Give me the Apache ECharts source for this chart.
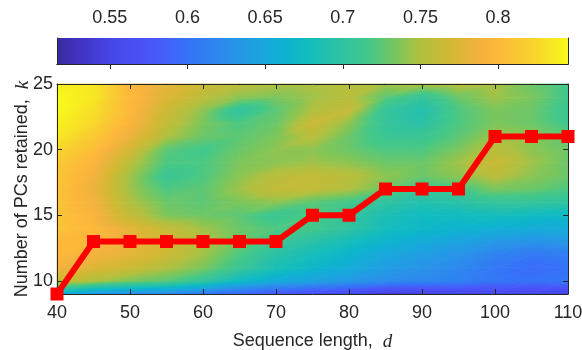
<!DOCTYPE html>
<html><head><meta charset="utf-8">
<script src="https://cdn.jsdelivr.net/npm/echarts@6/dist/echarts.min.js"></script>
<style>html,body{margin:0;padding:0;background:#fff}#c{width:582px;height:350px}</style>
</head><body><div id="c"></div>
<script>
// ---- data ----
const seqLength = [40,45,50,55,60,65,70,75,80,85,90,95,100,105,110];
const kValues = [9,10,11,12,13,14,15,16,17,18,19,20,21,22,23,24,25];
// heat values, one row per k (k = 9 ... 25), columns follow seqLength
const heatValues = [
  [0.66,0.635,0.625,0.62,0.605,0.59,0.575,0.565,0.555,0.54,0.545,0.55,0.555,0.55,0.545],   // k=9
  [0.765,0.75,0.735,0.725,0.705,0.675,0.655,0.645,0.635,0.625,0.62,0.615,0.605,0.60,0.605], // 10
  [0.79,0.775,0.765,0.75,0.735,0.71,0.685,0.67,0.655,0.64,0.63,0.62,0.605,0.595,0.60],      // 11
  [0.80,0.79,0.78,0.765,0.745,0.72,0.695,0.68,0.665,0.65,0.64,0.63,0.615,0.605,0.61],       // 12
  [0.80,0.80,0.785,0.77,0.75,0.73,0.71,0.695,0.68,0.665,0.655,0.645,0.635,0.63,0.635],      // 13
  [0.81,0.80,0.78,0.76,0.745,0.73,0.72,0.715,0.70,0.68,0.67,0.665,0.66,0.655,0.655],        // 14
  [0.81,0.795,0.76,0.735,0.73,0.725,0.71,0.72,0.705,0.685,0.675,0.675,0.68,0.675,0.67],     // 15
  [0.81,0.79,0.75,0.73,0.725,0.735,0.74,0.725,0.715,0.70,0.69,0.695,0.705,0.705,0.70],      // 16
  [0.81,0.785,0.745,0.72,0.725,0.745,0.76,0.76,0.75,0.73,0.71,0.715,0.735,0.73,0.72],       // 17
  [0.81,0.79,0.745,0.71,0.72,0.74,0.755,0.76,0.755,0.74,0.73,0.74,0.755,0.74,0.73],         // 18
  [0.815,0.795,0.755,0.72,0.72,0.735,0.74,0.745,0.74,0.73,0.73,0.745,0.765,0.745,0.73],     // 19
  [0.825,0.805,0.77,0.725,0.715,0.73,0.74,0.74,0.73,0.72,0.72,0.735,0.755,0.74,0.73],       // 20
  [0.835,0.815,0.785,0.75,0.73,0.725,0.735,0.755,0.73,0.71,0.71,0.725,0.745,0.74,0.725],    // 21
  [0.84,0.825,0.795,0.76,0.735,0.72,0.73,0.765,0.74,0.705,0.695,0.72,0.735,0.73,0.715],     // 22
  [0.845,0.83,0.80,0.765,0.74,0.70,0.725,0.75,0.76,0.705,0.69,0.72,0.735,0.73,0.71],        // 23
  [0.845,0.835,0.80,0.775,0.755,0.74,0.735,0.745,0.755,0.725,0.705,0.73,0.745,0.735,0.715], // 24
  [0.84,0.835,0.80,0.78,0.765,0.755,0.75,0.75,0.755,0.745,0.75,0.755,0.75,0.73,0.715]       // 25
];
// red line: number of PCs retained vs sequence length
const pcsRetained = [9,13,13,13,13,13,13,15,15,17,17,17,21,21,21];
// tick labels
const xTicks = [40,50,60,70,80,90,100,110];
const yTicks = [10,15,20,25];
const cbTicks = [0.55,0.6,0.65,0.7,0.75,0.8];
const cMin = 0.516, cMax = 0.845;

// ---- style ----
const cmapStops = [
  [0,'#3a2aa0'],[0.065,'#4338d0'],[0.104,'#4646e8'],[0.182,'#4a55f8'],[0.256,'#3572f8'],
  [0.337,'#2a90ea'],[0.407,'#18a8dc'],[0.456,'#0cb4cc'],[0.485,'#10bcc0'],[0.56,'#30c2a0'],
  [0.612,'#44c888'],[0.67,'#80c658'],[0.71,'#b0c040'],[0.769,'#d2b832'],[0.828,'#f2b23e'],
  [0.863,'#fdb83a'],[0.925,'#f8d02e'],[1,'#f8f81a']
].map(s => ({offset: s[0], color: s[1]}));
const AX = '#262626';
const FONT = 'Liberation Sans, Arial, sans-serif';

function hexToRgb(h){return [parseInt(h.substr(1,2),16),parseInt(h.substr(3,2),16),parseInt(h.substr(5,2),16)];}
function cmapColor(v){
  let t = (v - cMin)/(cMax - cMin); t = Math.max(0, Math.min(1, t));
  for (let i=1;i<cmapStops.length;i++){
    if (t <= cmapStops[i].offset){
      const a = cmapStops[i-1], b = cmapStops[i];
      const f = (t - a.offset)/(b.offset - a.offset);
      const ca = hexToRgb(a.color), cb = hexToRgb(b.color);
      return 'rgb(' + ca.map((c,k)=>Math.round(c + (cb[k]-c)*f)).join(',') + ')';
    }
  }
  return cmapStops[cmapStops.length-1].color;
}
function triFill(pa,pb,pc,va,vb,vc){
  const d1x=pb[0]-pa[0], d1y=pb[1]-pa[1], d2x=pc[0]-pa[0], d2y=pc[1]-pa[1];
  const dv1=vb-va, dv2=vc-va;
  const det = d1x*d2y - d1y*d2x;
  const gx = (dv1*d2y - dv2*d1y)/det, gy = (d1x*dv2 - d2x*dv1)/det;
  const gg = gx*gx + gy*gy;
  if (gg < 1e-12) return cmapColor((va+vb+vc)/3);
  const s = (cMin - va)/gg, e = (cMax - va)/gg;
  return {type:'linear', x: pa[0]+gx*s, y: pa[1]+gy*s, x2: pa[0]+gx*e, y2: pa[1]+gy*e,
          colorStops: cmapStops, global: true};
}

const heatData = [];
kValues.forEach((k,j)=>seqLength.forEach((x,i)=>heatData.push([x,k,heatValues[j][i],i,j])));

function renderHeat(params, api){
  const i = api.value(3), j = api.value(4);
  if (i >= seqLength.length-1 || j >= kValues.length-1) return null;
  const P = (ii,jj)=>api.coord([seqLength[ii], kValues[jj]]);
  const V = (ii,jj)=>heatValues[jj][ii];
  const p00=P(i,j), p10=P(i+1,j), p11=P(i+1,j+1), p01=P(i,j+1);
  const v00=V(i,j), v10=V(i+1,j), v11=V(i+1,j+1), v01=V(i,j+1);
  const f1 = triFill(p00,p10,p11,v00,v10,v11);
  const f2 = triFill(p00,p11,p01,v00,v11,v01);
  return {type:'group', children:[
    {type:'polygon', shape:{points:[p00,p10,p11]}, style:{fill:f1, stroke:f1, lineWidth:0.8}},
    {type:'polygon', shape:{points:[p00,p11,p01]}, style:{fill:f2, stroke:f2, lineWidth:0.8}}
  ]};
}
function renderBar(params, api){
  const p0 = api.coord([api.value(0), api.value(1)]);
  const p1 = api.coord([api.value(2), api.value(3)]);
  return {type:'rect', shape:{x:p0[0], y:p1[1], width:p1[0]-p0[0], height:p0[1]-p1[1]},
    style:{fill:{type:'linear', x:p0[0], y:0, x2:p1[0], y2:0, colorStops:cmapStops, global:true}}};
}

const chart = echarts.init(document.getElementById('c'), null, {renderer:'canvas'});
const lineStyleAx = {show:true, lineStyle:{color:AX, width:1}};
const labelBase = {color:AX, fontSize:18, fontFamily:FONT};
chart.setOption({
  animation:false,
  backgroundColor:'#fff',
  grid:[
    {left:57, right:14, top:84, height:210, outerBoundsMode:'none', containLabel:false},
    {left:57, right:14, top:38, height:26, outerBoundsMode:'none', containLabel:false}
  ],
  xAxis:[
    {gridIndex:0, type:'value', min:40, max:110, interval:10, position:'bottom', z:5,
     axisLine:lineStyleAx, axisTick:{inside:true, length:5, lineStyle:{color:AX}},
     axisLabel:Object.assign({margin:10, customValues:xTicks}, labelBase), splitLine:{show:false},
     name:'Sequence length,  {d|d}', nameLocation:'middle', nameGap:38, nameMoveOverlap:false,
     nameTextStyle:{color:AX, fontSize:18, fontFamily:FONT,
       rich:{d:{fontFamily:'Liberation Serif, serif', fontStyle:'italic', fontSize:19, color:AX}}}},
    {gridIndex:0, type:'value', min:40, max:110, interval:10, position:'top', z:5,
     axisLine:lineStyleAx, axisTick:{inside:true, length:5, lineStyle:{color:AX}},
     axisLabel:{show:false}, splitLine:{show:false}},
    {gridIndex:1, type:'value', min:cMin, max:cMax, position:'top', z:5,
     axisLine:lineStyleAx, axisTick:{inside:true, length:5, customValues:cbTicks, lineStyle:{color:AX}},
     axisLabel:Object.assign({margin:11, customValues:cbTicks}, labelBase), splitLine:{show:false}},
    {gridIndex:1, type:'value', min:cMin, max:cMax, position:'bottom', z:5,
     axisLine:lineStyleAx, axisTick:{show:false}, axisLabel:{show:false}, splitLine:{show:false}}
  ],
  yAxis:[
    {gridIndex:0, type:'value', min:9, max:25, position:'left', z:5,
     axisLine:lineStyleAx, axisTick:{inside:true, length:5, customValues:yTicks, lineStyle:{color:AX}},
     axisLabel:Object.assign({margin:4, customValues:yTicks}, labelBase), splitLine:{show:false},
     name:'Number of PCs retained,  {k|k}', nameLocation:'middle', nameGap:25, nameRotate:90,
     nameMoveOverlap:false,
     nameTextStyle:{color:AX, fontSize:18, fontFamily:FONT,
       rich:{k:{fontFamily:'Liberation Serif, serif', fontStyle:'italic', fontSize:19, color:AX}}}},
    {gridIndex:0, type:'value', min:9, max:25, position:'right', z:5,
     axisLine:lineStyleAx, axisTick:{inside:true, length:5, customValues:yTicks, lineStyle:{color:AX}},
     axisLabel:{show:false}, splitLine:{show:false}},
    {gridIndex:1, type:'value', min:0, max:1, position:'left', z:5,
     axisLine:lineStyleAx, axisTick:{show:false}, axisLabel:{show:false}, splitLine:{show:false}},
    {gridIndex:1, type:'value', min:0, max:1, position:'right', z:5,
     axisLine:lineStyleAx, axisTick:{show:false}, axisLabel:{show:false}, splitLine:{show:false}}
  ],
  series:[
    {type:'custom', xAxisIndex:0, yAxisIndex:0, data:heatData, renderItem:renderHeat,
     encode:{x:0, y:1}, z:1, silent:true},
    {type:'custom', xAxisIndex:2, yAxisIndex:2, data:[[cMin,0,cMax,1]], renderItem:renderBar,
     encode:{x:[0,2], y:[1,3]}, z:1, silent:true},
    {type:'line', xAxisIndex:0, yAxisIndex:0, data:seqLength.map((x,i)=>[x,pcsRetained[i]]),
     symbol:'rect', symbolSize:13, clip:false, z:10,
     lineStyle:{color:'#ff0000', width:6}, itemStyle:{color:'#ff0000'}}
  ]
});
</script></body></html>
